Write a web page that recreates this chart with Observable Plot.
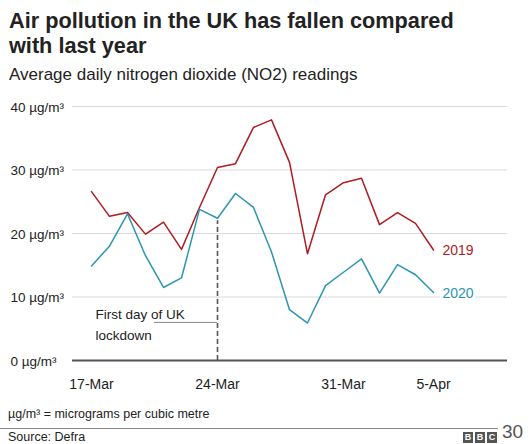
<!DOCTYPE html>
<html>
<head>
<meta charset="utf-8">
<script src="https://cdn.jsdelivr.net/npm/d3@7"></script>
<script src="https://cdn.jsdelivr.net/npm/@observablehq/plot@0.6"></script>
<style>
  html, body { margin: 0; padding: 0; background: #fff; }
  body { width: 532px; height: 444px; position: relative; overflow: hidden; font-family: "Liberation Sans", Arial, Helvetica, sans-serif; color: #222; }
  #title { position: absolute; left: 9px; top: 8px; font-size: 21.7px; font-weight: bold; line-height: 25px; color: #222; }
  #subtitle { position: absolute; left: 9px; top: 65px; font-size: 17px; line-height: 20px; color: #222; }
  #chart { position: absolute; left: 0; top: 92px; }
  #note { position: absolute; left: 8px; top: 407px; font-size: 12.5px; color: #222; }
  #rule { position: absolute; left: 0; top: 428px; width: 498px; height: 1px; background: #888; }
  #source { position: absolute; left: 8px; top: 430px; font-size: 12.5px; color: #222; }
  #logo { position: absolute; left: 463px; top: 432px; display: flex; gap: 2px; }
  #logo span { display: block; width: 10px; height: 11px; background: #555; color: #fff; font-size: 9px; font-weight: bold; line-height: 11px; text-align: center; }
  #page { position: absolute; left: 502px; top: 421px; font-size: 19px; color: #555; }
</style>
</head>
<body>
<div id="title">Air pollution in the UK has fallen compared<br>with last year</div>
<div id="subtitle">Average daily nitrogen dioxide (NO2) readings</div>
<div id="chart"></div>
<div id="note">µg/m³ = micrograms per cubic metre</div>
<div id="rule"></div>
<div id="source">Source: Defra</div>
<div id="logo"><span>B</span><span>B</span><span>C</span></div>
<div id="page">30</div>
<script>
// Days from 17-Mar to 5-Apr
const dates = d3.timeDay.range(new Date(2020, 2, 17), new Date(2020, 3, 6));
const values2019 = [26.6, 22.7, 23.3, 19.9, 21.8, 17.5, 24.1, 30.4, 31.0, 36.7, 37.9, 31.2, 16.8, 26.1, 28.0, 28.7, 21.4, 23.3, 21.6, 17.4];
const values2020 = [14.9, 18.0, 23.1, 16.5, 11.5, 13.0, 23.8, 22.4, 26.3, 24.1, 17.1, 8.0, 5.9, 11.8, 13.9, 16.0, 10.6, 15.1, 13.5, 10.7];
const yTicks = [0, 10, 20, 30, 40];
const xTicks = [new Date(2020, 2, 17), new Date(2020, 2, 24), new Date(2020, 2, 31), new Date(2020, 3, 5)];
const lockdownDate = new Date(2020, 2, 24);
const lockdownValue2020 = 22.4;
const seriesNames = ["2019", "2020"];
const colors = ["#b01b22", "#2b95b2"];

const data = [
  ...dates.map((d, i) => ({date: d, value: values2019[i], series: "2019"})),
  ...dates.map((d, i) => ({date: d, value: values2020[i], series: "2020"}))
];
const lastLabels = seriesNames.map((s, j) => ({series: s, date: dates[dates.length - 1], value: j === 0 ? values2019[values2019.length - 1] : values2020[values2020.length - 1]}));

const DAY = 86400000;
const xDomain = [new Date(dates[0].getTime() - 1.055 * DAY), new Date(dates[dates.length - 1].getTime() + 4.11 * DAY)];

const plot = Plot.plot({
  width: 532,
  height: 310,
  marginLeft: 72,
  marginRight: 25,
  marginTop: 14,
  marginBottom: 42,
  style: {fontFamily: "Liberation Sans, Arial, sans-serif", fontSize: "13px", color: "#222", background: "transparent"},
  x: {type: "time", domain: xDomain, label: null},
  y: {domain: [0, 40], label: null},
  color: {domain: seriesNames, range: colors},
  marks: [
    Plot.ruleY(yTicks.filter(t => t > 0), {stroke: "#d9d9d9", strokeWidth: 1}),
    Plot.axisY(yTicks, {
      tickSize: 0, tickPadding: 0, textAnchor: "start", dx: -62, dy: 1, label: null,
      tickFormat: d => `${d} µg/m³`, fill: "#222", fontSize: 13.5
    }),
    Plot.axisX(xTicks, {
      tickSize: 0, tickPadding: 19, label: null, tickFormat: d3.timeFormat("%-d-%b"), fill: "#222", fontSize: 14
    }),
    Plot.ruleX([lockdownDate], {y1: 0, y2: lockdownValue2020 - 0.4, stroke: "#555", strokeWidth: 1.6, strokeDasharray: "5,3"}),
    Plot.ruleY([6.0], {x1: new Date(dates[0].getTime() + 3.5 * DAY), x2: lockdownDate, stroke: "#888", strokeWidth: 1}),
    Plot.text(["First day of UK\nlockdown"], {
      x: dates[0], y: 5.9, text: d => d, textAnchor: "start", dx: 4, lineHeight: 1.55, fontSize: 13.5, fill: "#222"
    }),
    Plot.lineY(data, {x: "date", y: "value", z: "series", stroke: "series", strokeWidth: 1.5}),
    Plot.text(lastLabels, {
      x: "date", y: "value", text: "series", fill: "series", textAnchor: "start", dx: 9, dy: 1,
      fontSize: 14, stroke: "white", strokeWidth: 6
    }),
    Plot.ruleY([0], {stroke: "#555", strokeWidth: 2})
  ]
});
document.getElementById("chart").appendChild(plot);
</script>
</body>
</html>
